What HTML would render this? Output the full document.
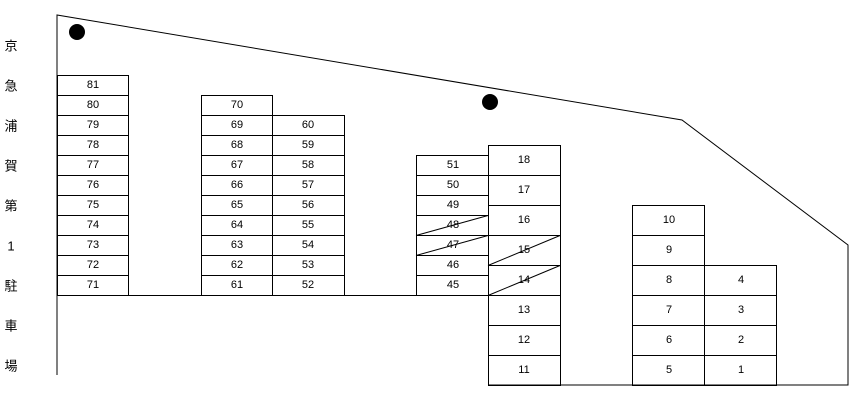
<!DOCTYPE html>
<html><head><meta charset="utf-8"><style>
html,body{margin:0;padding:0;background:#fff;width:864px;height:405px;overflow:hidden}
svg{display:block}
text{font-family:"Liberation Sans","Noto Sans CJK JP",sans-serif;font-size:11px;fill:#000;text-anchor:middle;dominant-baseline:central}
.k{font-size:13px}
rect{fill:none;stroke:#000;stroke-width:1}
line,polyline{stroke:#000;stroke-width:1;fill:none}
</style></head><body>
<svg width="864" height="405" viewBox="0 0 864 405" xmlns="http://www.w3.org/2000/svg">
<polyline points="57,375 57,15 682,120 848,245 848,385 488,385"/>
<line x1="57" y1="295.5" x2="488" y2="295.5"/>
<circle cx="77" cy="32" r="8" fill="#000"/>
<circle cx="490" cy="102" r="8" fill="#000"/>
<g class="k">
<text class="k" x="11" y="46">京</text><text class="k" x="11" y="86">急</text><text class="k" x="11" y="126">浦</text><text class="k" x="11" y="166">賀</text><text class="k" x="11" y="206">第</text><text class="k" x="11" y="246">1</text><text class="k" x="11" y="286">駐</text><text class="k" x="11" y="326">車</text><text class="k" x="11" y="366">場</text>
</g>
<!-- column A -->
<rect x="57.5" y="75.5" width="71" height="20"/><text x="93" y="85">81</text>
<rect x="57.5" y="95.5" width="71" height="20"/><text x="93" y="105">80</text>
<rect x="57.5" y="115.5" width="71" height="20"/><text x="93" y="125">79</text>
<rect x="57.5" y="135.5" width="71" height="20"/><text x="93" y="145">78</text>
<rect x="57.5" y="155.5" width="71" height="20"/><text x="93" y="165">77</text>
<rect x="57.5" y="175.5" width="71" height="20"/><text x="93" y="185">76</text>
<rect x="57.5" y="195.5" width="71" height="20"/><text x="93" y="205">75</text>
<rect x="57.5" y="215.5" width="71" height="20"/><text x="93" y="225">74</text>
<rect x="57.5" y="235.5" width="71" height="20"/><text x="93" y="245">73</text>
<rect x="57.5" y="255.5" width="71" height="20"/><text x="93" y="265">72</text>
<rect x="57.5" y="275.5" width="71" height="20"/><text x="93" y="285">71</text>
<!-- column B -->
<rect x="201.5" y="95.5" width="71" height="20"/><text x="237" y="105">70</text>
<rect x="201.5" y="115.5" width="71" height="20"/><text x="237" y="125">69</text>
<rect x="201.5" y="135.5" width="71" height="20"/><text x="237" y="145">68</text>
<rect x="201.5" y="155.5" width="71" height="20"/><text x="237" y="165">67</text>
<rect x="201.5" y="175.5" width="71" height="20"/><text x="237" y="185">66</text>
<rect x="201.5" y="195.5" width="71" height="20"/><text x="237" y="205">65</text>
<rect x="201.5" y="215.5" width="71" height="20"/><text x="237" y="225">64</text>
<rect x="201.5" y="235.5" width="71" height="20"/><text x="237" y="245">63</text>
<rect x="201.5" y="255.5" width="71" height="20"/><text x="237" y="265">62</text>
<rect x="201.5" y="275.5" width="71" height="20"/><text x="237" y="285">61</text>
<!-- column C -->
<rect x="272.5" y="115.5" width="72" height="20"/><text x="308" y="125">60</text>
<rect x="272.5" y="135.5" width="72" height="20"/><text x="308" y="145">59</text>
<rect x="272.5" y="155.5" width="72" height="20"/><text x="308" y="165">58</text>
<rect x="272.5" y="175.5" width="72" height="20"/><text x="308" y="185">57</text>
<rect x="272.5" y="195.5" width="72" height="20"/><text x="308" y="205">56</text>
<rect x="272.5" y="215.5" width="72" height="20"/><text x="308" y="225">55</text>
<rect x="272.5" y="235.5" width="72" height="20"/><text x="308" y="245">54</text>
<rect x="272.5" y="255.5" width="72" height="20"/><text x="308" y="265">53</text>
<rect x="272.5" y="275.5" width="72" height="20"/><text x="308" y="285">52</text>
<!-- column D -->
<rect x="416.5" y="155.5" width="72" height="20"/><text x="453" y="165">51</text>
<rect x="416.5" y="175.5" width="72" height="20"/><text x="453" y="185">50</text>
<rect x="416.5" y="195.5" width="72" height="20"/><text x="453" y="205">49</text>
<rect x="416.5" y="215.5" width="72" height="20"/><text x="453" y="225">48</text>
<rect x="416.5" y="235.5" width="72" height="20"/><text x="453" y="245">47</text>
<rect x="416.5" y="255.5" width="72" height="20"/><text x="453" y="265">46</text>
<rect x="416.5" y="275.5" width="72" height="20"/><text x="453" y="285">45</text>
<line x1="416" y1="235.5" x2="488" y2="215.5"/>
<line x1="416" y1="255.5" x2="488" y2="235.5"/>
<!-- column E -->
<rect x="488.5" y="145.5" width="72" height="30"/><text x="524" y="160">18</text>
<rect x="488.5" y="175.5" width="72" height="30"/><text x="524" y="190">17</text>
<rect x="488.5" y="205.5" width="72" height="30"/><text x="524" y="220">16</text>
<rect x="488.5" y="235.5" width="72" height="30"/><text x="524" y="250">15</text>
<rect x="488.5" y="265.5" width="72" height="30"/><text x="524" y="280">14</text>
<rect x="488.5" y="295.5" width="72" height="30"/><text x="524" y="310">13</text>
<rect x="488.5" y="325.5" width="72" height="30"/><text x="524" y="340">12</text>
<rect x="488.5" y="355.5" width="72" height="30"/><text x="524" y="370">11</text>
<line x1="488" y1="265.5" x2="560" y2="235.5"/>
<line x1="488" y1="295.5" x2="560" y2="265.5"/>
<!-- column F -->
<rect x="632.5" y="205.5" width="72" height="30"/><text x="669" y="220">10</text>
<rect x="632.5" y="235.5" width="72" height="30"/><text x="669" y="250">9</text>
<rect x="632.5" y="265.5" width="72" height="30"/><text x="669" y="280">8</text>
<rect x="632.5" y="295.5" width="72" height="30"/><text x="669" y="310">7</text>
<rect x="632.5" y="325.5" width="72" height="30"/><text x="669" y="340">6</text>
<rect x="632.5" y="355.5" width="72" height="30"/><text x="669" y="370">5</text>
<!-- column G -->
<rect x="704.5" y="265.5" width="72" height="30"/><text x="741" y="280">4</text>
<rect x="704.5" y="295.5" width="72" height="30"/><text x="741" y="310">3</text>
<rect x="704.5" y="325.5" width="72" height="30"/><text x="741" y="340">2</text>
<rect x="704.5" y="355.5" width="72" height="30"/><text x="741" y="370">1</text>
</svg>
</body></html>
